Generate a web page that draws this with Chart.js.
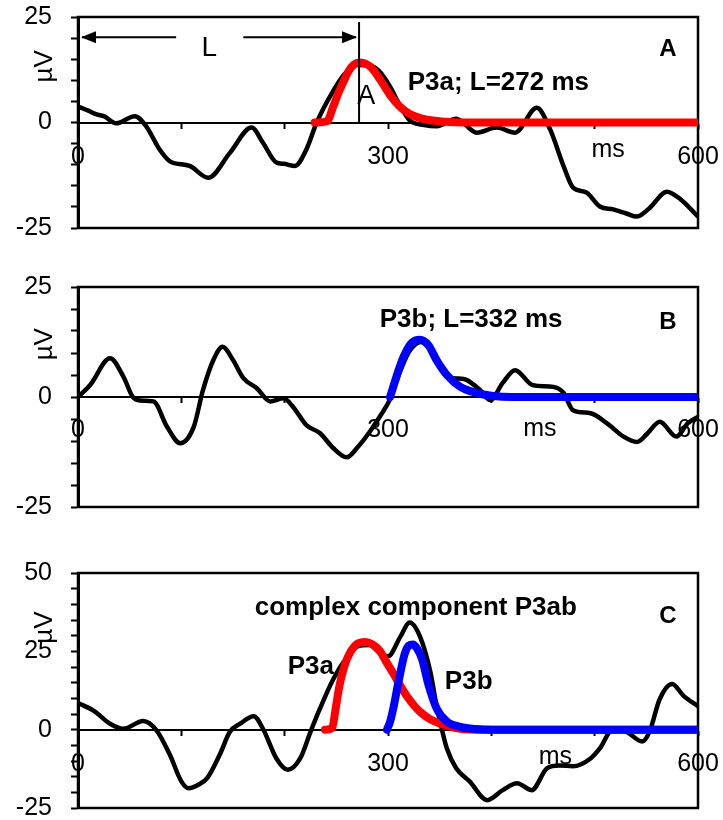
<!DOCTYPE html>
<html>
<head>
<meta charset="utf-8">
<script src="https://cdn.jsdelivr.net/npm/chart.js@4.4.0/dist/chart.umd.min.js"></script>
<style>
  html, body { margin: 0; padding: 0; background: #fff; overflow: hidden; }
  canvas { position: absolute; left: 0; }
</style>
</head>
<body>
<canvas id="panelA" width="723" height="270" style="top:0px"></canvas>
<canvas id="panelB" width="723" height="270" style="top:270px"></canvas>
<canvas id="panelC" width="723" height="275" style="top:548px"></canvas>
<script>
// A: recorded ERP and fitted P3a
const timeA = [0, 10, 18, 25, 37, 55, 66, 79, 89, 108, 126, 147, 168, 179, 192, 199, 210, 221, 231, 247, 258, 270, 282, 291, 302, 311, 321, 335, 347, 366, 386, 405, 423, 444, 457, 470, 479, 492, 505, 518, 530, 541, 553, 570, 583, 600];
const eegA = [3.8, 2.8, 1.9, 1.5, -0.2, 1.5, -0.9, -6.4, -9.2, -10.3, -13.1, -7.2, -1.2, -4.8, -9.5, -9.8, -10.3, -6.4, 0, 7.5, 11.5, 13.6, 13.5, 12.3, 8.5, 4.3, 0.5, -0.6, -0.9, 0.9, -2.4, -1.2, -2.4, 3.5, -1.7, -10.4, -15.4, -16.6, -19.9, -20.6, -21.5, -22.3, -20.3, -16.4, -18.2, -22.3];
const timeP3aA = [229, 241, 247, 252, 257, 262, 267, 272, 283, 292, 302, 311, 321, 332, 345, 360, 380, 600];
const p3aA = [0, 0.3, 3.8, 7.0, 9.7, 12.2, 13.7, 14.2, 13.2, 10.3, 6.5, 3.9, 2.0, 1.0, 0.4, 0.1, 0, 0];

// B: recorded ERP and fitted P3b
const timeB = [0, 12, 31, 44, 53, 60, 73, 86, 99, 112, 121, 131, 140, 150, 160, 173, 186, 199, 208, 221, 234, 247, 260, 271, 282, 292, 302, 312, 321, 332, 344, 352, 360, 368, 376, 389, 399, 411, 423, 440, 460, 470, 479, 496, 512, 528, 541, 551, 563, 579, 590, 600];
const eegB = [0, 2.8, 8.8, 4.6, 0, -0.8, -1.0, -6.7, -10.5, -6.8, 1.6, 8.4, 11.4, 8.4, 4.3, 2.0, -1.0, -0.3, -2.2, -6.4, -8.2, -11.6, -13.7, -11.3, -8.0, -4.5, -0.5, 6.0, 10.5, 12.5, 9.8, 6.5, 4.3, 4.2, 3.9, 1.6, -0.7, 3.2, 6.1, 2.7, 2.3, 0.9, -3.0, -3.7, -6.0, -9.0, -10.2, -8.3, -5.6, -9.0, -6.0, -4.5];
const timeP3bB = [302, 308, 315, 323, 331, 339, 347, 357, 370, 386, 400, 420, 600];
const p3bB = [0, 4.5, 9.1, 12.3, 13.0, 11.8, 8.4, 5.0, 2.3, 0.9, 0.3, 0, 0];

// C: complex component P3ab
const timeC = [0, 15, 31, 44, 63, 76, 89, 100, 107, 117, 125, 137, 147, 157, 170, 179, 192, 203, 215, 225, 234, 247, 260, 270, 282, 292, 300, 312, 321, 331, 341, 347, 352, 357, 366, 379, 396, 411, 425, 439, 454, 466, 479, 496, 505, 518, 531, 546, 553, 563, 575, 586, 600];
const eegC = [8.5, 6.1, 1.9, 0.3, 2.8, -0.2, -8.1, -16.5, -18.7, -17.5, -15.5, -8.1, -0.7, 1.9, 4.3, 0.3, -9.2, -12.8, -9.2, -0.7, 6.6, 16.1, 23.0, 26.5, 27.0, 24.5, 23.4, 29.7, 34.2, 29.7, 18.4, 7.6, 0.3, -6.0, -12.3, -16.5, -22.5, -19.3, -17.1, -19.3, -12.3, -11.4, -11.7, -9.2, -6.0, 0.3, -0.7, -3.8, -0.7, 9.8, 14.6, 10.8, 7.5];
const timeP3aC = [239, 246, 249, 253, 258, 264, 271, 278, 285, 292, 298, 305, 312, 318, 325, 331, 338, 344, 357, 370, 390, 600];
const p3aC = [0, 0.5, 6.0, 14.0, 20.5, 25.0, 27.6, 28.0, 27.2, 25.2, 21.8, 18.0, 14.0, 10.8, 7.8, 5.7, 3.9, 2.8, 1.2, 0.3, 0, 0];
const timeP3bC = [299, 302, 305, 310, 316, 320, 324, 328, 333, 339, 347, 357, 370, 385, 400, 600];
const p3bC = [0, 2.5, 6.6, 15.0, 24.0, 26.8, 27.2, 26.0, 22.5, 14.5, 6.8, 2.6, 0.9, 0.2, 0, 0];

const xTickLabels = [0, 300, 600];
const latencyA = 272;

const FAMILY = '"Liberation Sans", Arial, sans-serif';
const REG = (s) => s + 'px ' + FAMILY;
const BOLD = (s) => 'bold ' + s + 'px ' + FAMILY;

// text placed in data units (ms, µV)
const notes = {
  panelA: {
    unitAt: 13.3,
    texts: [
      {text: 'P3a; L=272 ms', x: 319, y: 9.5, font: BOLD(26), align: 'left'},
      {text: 'A', x: 571, y: 17.3, font: BOLD(24)},
      {text: 'A', x: 279, y: 6.2, font: REG(27)},
      {text: 'L', x: 127, y: 17.5, font: REG(28)},
      {text: 'ms', x: 513, y: -6.6, font: REG(25)}
    ],
    latency: {at: latencyA, level: 20.2, top: 23.8, gap: [95, 160]}
  },
  panelB: {
    unitAt: 12,
    texts: [
      {text: 'P3b; L=332 ms', x: 292, y: 17.5, font: BOLD(26), align: 'left'},
      {text: 'B', x: 571, y: 17, font: BOLD(24)},
      {text: 'ms', x: 447, y: -7.3, font: REG(25)}
    ]
  },
  panelC: {
    unitAt: 32.6,
    texts: [
      {text: 'complex component P3ab', x: 171, y: 38.9, font: BOLD(26), align: 'left'},
      {text: 'C', x: 571, y: 36, font: BOLD(24)},
      {text: 'P3a', x: 203, y: 20, font: BOLD(26), align: 'left'},
      {text: 'P3b', x: 355, y: 15.2, font: BOLD(26), align: 'left'},
      {text: 'ms', x: 462, y: -8.6, font: REG(25)}
    ]
  }
};

const toPoints = (xs, ys) => xs.map((t, i) => ({x: t, y: ys[i]}));

const framePlugin = {
  id: 'frame',
  beforeDatasetsDraw(chart) {
    const {ctx, chartArea: a} = chart;
    ctx.save();
    ctx.strokeStyle = '#000';
    ctx.lineWidth = 2.5;
    ctx.strokeRect(a.left, a.top, a.right - a.left, a.bottom - a.top);
    ctx.restore();
  },
  afterDatasetsDraw(chart) {
    const n = notes[chart.canvas.id];
    const {ctx, chartArea: a} = chart;
    const x = chart.scales.x, y = chart.scales.y;
    ctx.save();
    ctx.fillStyle = '#000';
    ctx.strokeStyle = '#000';
    ctx.textBaseline = 'middle';

    if (n.latency) {
      const L = n.latency;
      const px = x.getPixelForValue(L.at);
      const x0 = x.getPixelForValue(0);
      const py = y.getPixelForValue(L.level);
      ctx.lineWidth = 2;
      ctx.beginPath();
      ctx.moveTo(px, y.getPixelForValue(L.top));
      ctx.lineTo(px, y.getPixelForValue(0));
      ctx.moveTo(x0 + 4, py);
      ctx.lineTo(x.getPixelForValue(L.gap[0]), py);
      ctx.moveTo(x.getPixelForValue(L.gap[1]), py);
      ctx.lineTo(px - 3, py);
      ctx.stroke();
      const head = (tip, dir) => {
        ctx.beginPath();
        ctx.moveTo(tip, py);
        ctx.lineTo(tip + dir * 15, py - 6);
        ctx.lineTo(tip + dir * 15, py + 6);
        ctx.closePath();
        ctx.fill();
      };
      head(x0 + 3, 1);
      head(px - 2, -1);
    }

    n.texts.forEach(t => {
      ctx.font = t.font;
      ctx.textAlign = t.align || 'center';
      ctx.fillText(t.text, x.getPixelForValue(t.x), y.getPixelForValue(t.y));
    });

    ctx.translate(a.left - 33, y.getPixelForValue(n.unitAt));
    ctx.rotate(-Math.PI / 2);
    ctx.font = REG(26);
    ctx.textAlign = 'center';
    ctx.fillText('µV', 0, 0);
    ctx.restore();
  }
};

function panel(id, yMax, padTop, padBottom, xPad, datasets) {
  return new Chart(document.getElementById(id), {
    type: 'line',
    data: {datasets: datasets},
    options: {
      responsive: false,
      animation: false,
      devicePixelRatio: 1,
      layout: {padding: {left: 0, right: 25, top: padTop, bottom: padBottom}},
      plugins: {legend: {display: false}, tooltip: {enabled: false}},
      elements: {
        point: {radius: 0},
        line: {cubicInterpolationMode: 'monotone', borderJoinStyle: 'round'}
      },
      scales: {
        x: {
          type: 'linear', min: 0, max: 600, position: {y: 0},
          afterFit: s => { s.paddingLeft = 0; s.paddingRight = 0; },
          ticks: {
            stepSize: 100, autoSkip: false, maxRotation: 0, padding: xPad,
            color: '#000', font: {family: FAMILY, size: 25},
            callback: v => xTickLabels.includes(v) ? v : ''
          },
          grid: {drawOnChartArea: false, drawTicks: true, tickLength: 5, tickWidth: 2, tickColor: '#000'},
          border: {color: '#000', width: 2}
        },
        y: {
          min: -25, max: yMax,
          afterFit: s => { s.width = 78; s.paddingTop = 0; s.paddingBottom = 0; },
          ticks: {
            stepSize: 5, autoSkip: false, padding: 19,
            color: '#000', font: {family: FAMILY, size: 25},
            callback: v => v % 25 === 0 ? v : ''
          },
          grid: {drawOnChartArea: false, drawTicks: true, tickLength: 7, tickWidth: 2, tickColor: '#000'},
          border: {color: '#000', width: 3}
        }
      }
    },
    plugins: [framePlugin]
  });
}

const ERP = (pts) => ({data: pts, borderColor: '#000', borderWidth: 4.5, order: 3});
const P3A = (pts) => ({data: pts, borderColor: '#ff0000', borderWidth: 8, borderCapStyle: 'round', order: 2});
const P3B = (pts) => ({data: pts, borderColor: '#0000ff', borderWidth: 8, borderCapStyle: 'round', order: 1});

panel('panelA', 25, 17, 42, 15, [
  ERP(toPoints(timeA, eegA)),
  P3A(toPoints(timeP3aA, p3aA))
]);

panel('panelB', 25, 17, 33, 13, [
  ERP(toPoints(timeB, eegB)),
  P3B(toPoints(timeP3bB, p3bB))
]);

panel('panelC', 50, 25, 15, 14, [
  ERP(toPoints(timeC, eegC)),
  P3A(toPoints(timeP3aC, p3aC)),
  P3B(toPoints(timeP3bC, p3bC))
]);
</script>
</body>
</html>
